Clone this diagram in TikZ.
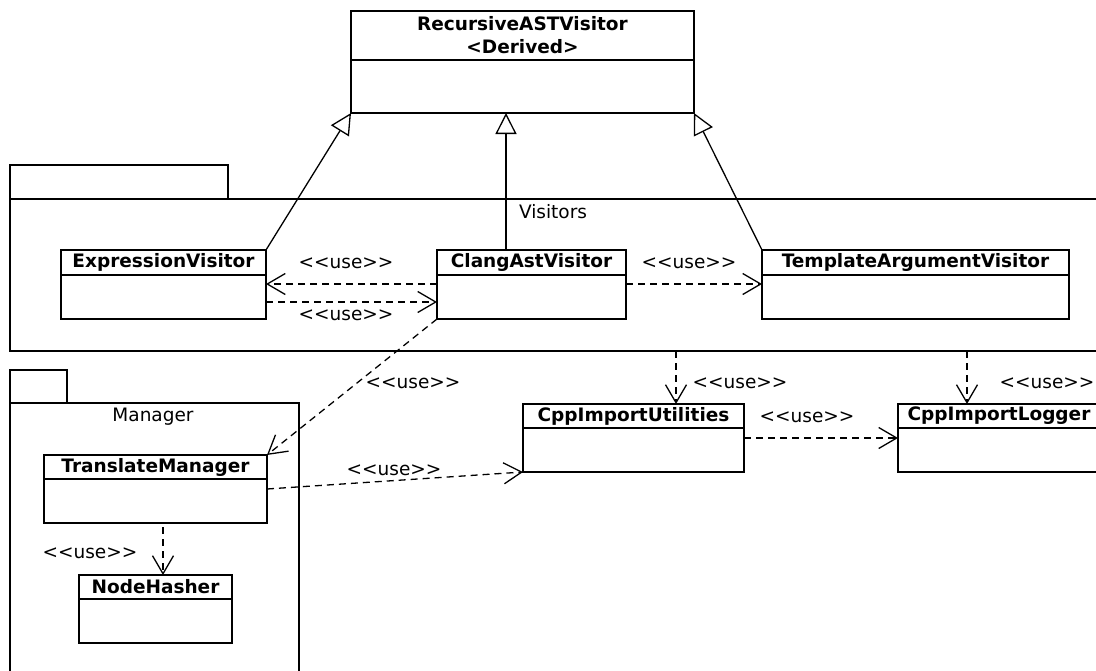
\documentclass[tikz,border=0pt]{standalone}
\usepackage{fontspec}
\newfontfamily\dvs{DejaVu Sans}
\usetikzlibrary{arrows.meta,calc}
\newcommand\umlbox[7]{%
  \node[cls, minimum width=#4pt, minimum height=#5pt] (#1) at (#2,#3) {};
  \draw[ln] ([yshift=-#6pt]#1.north west) -- ([yshift=-#6pt]#1.north east);
  \node[ttl] at ([yshift=-#6pt/2]#1.north) {#7};
}
\begin{document}
\begin{tikzpicture}[x=1pt,y=-1pt,
  every node/.style={font=\dvs\fontsize{18.5}{23}\selectfont},
  ln/.style={line width=1.4pt},
  cls/.style={draw, line width=1.4pt, inner sep=0pt, outer sep=0pt, anchor=north west},
  pkg/.style={draw, line width=1.4pt, inner sep=0pt, outer sep=0pt, anchor=north west},
  ttl/.style={font=\dvs\fontsize{18.5}{23}\selectfont\bfseries, inner sep=0pt, align=center},
  lbl/.style={inner sep=0pt},
  gen/.style={line width=1.3pt, -{Triangle[open,length=21pt,width=21pt]}},
  dep/.style={line width=1.3pt, dash pattern=on 7pt off 5pt, -{Straight Barb[length=18pt,width=21pt]}},
]
\useasboundingbox (0,0) rectangle (1096,670);
\clip (0,0) rectangle (1096,670);

% packages
\node[pkg, minimum width=218pt, minimum height=34pt] (vistab) at (10,165) {};
\node[pkg, minimum width=1110pt, minimum height=152pt] (vis) at (10,199) {};
\node[lbl] (vislbl) at (553,212) {Visitors};
\node[pkg, minimum width=57pt, minimum height=33pt] (mantab) at (10,370) {};
\node[pkg, minimum width=289pt, minimum height=300pt] (man) at (10,403) {};
\node[lbl] (manlbl) at (153,417) {Manager};

% classes
\umlbox{rast}{351}{11}{343}{102}{49}{RecursiveASTVisitor\\<Derived>}
\umlbox{expr}{61}{250}{205}{69}{25}{ExpressionVisitor}
\umlbox{clang}{437}{250}{189}{69}{25}{ClangAstVisitor}
\umlbox{tmpl}{762}{250}{307}{69}{25}{TemplateArgumentVisitor}
\umlbox{tman}{44}{455}{223}{68}{24}{TranslateManager}
\umlbox{hash}{79}{575}{153}{68}{24}{NodeHasher}
\umlbox{util}{523}{404}{221}{68}{24}{CppImportUtilities}
\umlbox{logger}{898}{404}{202}{68}{24}{CppImportLogger}

% generalizations
\draw[gen] (expr.north east) -- (rast.south west);
\draw[gen] ([xshift=-25.5pt]clang.north) -- ([xshift=-25.5pt]clang.north |- rast.south);
\draw[gen] (tmpl.north west) -- (rast.south east);

% dependencies
\coordinate (v1) at (676,351);
\coordinate (v2) at (967,351);
\draw[dep] ([yshift=-34pt]clang.north west) -- ([yshift=-34pt]expr.north east);
\draw[dep] ([yshift=-52pt]expr.north east) -- ([yshift=-52pt]clang.north west);
\draw[dep] ([yshift=-34pt]clang.north east) -- ([yshift=-34pt]tmpl.north west);
\draw[dep] (clang.south west) -- (tman.north east);
\draw[dep] (v1) -- (v1 |- util.north);
\draw[dep] (v2) -- (v2 |- logger.north);
\draw[dep] ([yshift=-34pt]util.north east) -- ([yshift=-34pt]logger.north west);
\draw[dep] (tman.east) -- (util.south west);
\draw[dep] ([xshift=7.5pt,yshift=-4pt]tman.south) -- ([xshift=7.5pt]hash.north);

% labels
\node[lbl] (l1) at (346,263) {<<use>>};
\node[lbl] (l2) at (346,315) {<<use>>};
\node[lbl] (l3) at (689,263) {<<use>>};
\node[lbl] (l4) at (413,383) {<<use>>};
\node[lbl] (l5) at (740,383) {<<use>>};
\node[lbl] (l6) at (1047,383) {<<use>>};
\node[lbl] (l7) at (807,417) {<<use>>};
\node[lbl] (l8) at (394,470) {<<use>>};
\node[lbl] (l9) at (90,553) {<<use>>};
\end{tikzpicture}
\end{document}
